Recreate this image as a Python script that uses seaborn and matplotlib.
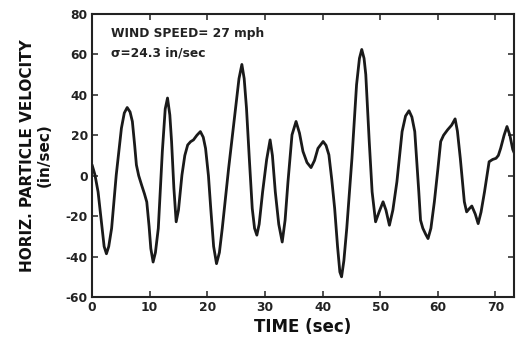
import matplotlib
matplotlib.use("Agg")
import matplotlib.pyplot as plt
import seaborn as sns
import pandas as pd

time_sec = [0.0, 0.5, 1.05, 1.74, 2.1, 2.5, 2.9, 3.4, 4.2, 5.1, 5.6, 6.1, 6.6, 7.0, 7.4,
            7.7, 8.1, 8.6, 9.1, 9.5, 9.9, 10.2, 10.6, 11.0, 11.5, 12.2, 12.7, 13.1, 13.5,
            13.8, 14.2, 14.6, 15.0, 15.6, 16.1, 16.6, 17.1, 17.6, 18.2, 18.8, 19.3, 19.7,
            20.2, 20.6, 21.1, 21.6, 22.1, 22.6, 23.7, 24.9, 25.5, 26.0, 26.4, 26.8, 27.3,
            27.8, 28.2, 28.6, 29.0, 29.6, 30.3, 30.9, 31.3, 31.8, 32.4, 33.0, 33.5, 34.0,
            34.7, 35.4, 36.0, 36.6, 37.3, 38.0, 38.6, 39.2, 40.1, 40.6, 41.1, 41.6, 42.1,
            42.6, 43.0, 43.3, 43.7, 44.2, 45.1, 45.9, 46.4, 46.8, 47.2, 47.5, 48.1, 48.6,
            49.2, 49.8, 50.5, 51.0, 51.6, 52.2, 52.9, 53.8, 54.4, 55.0, 55.5, 56.0, 56.7,
            57.0, 57.4, 57.9, 58.3, 58.8, 59.4, 60.0, 60.5, 61.0, 61.7, 62.4, 63.0, 63.4,
            63.9, 64.3, 64.6, 65.0, 65.4, 65.9, 66.5, 67.0, 67.5, 68.1, 68.9, 69.5, 70.1,
            70.5, 70.9, 71.5, 72.0, 72.5, 73.0, 73.4]
velocity = [5.4, 0.5, -8.0, -26.0, -35.0, -38.6, -35.0, -26.0, 0.3, 23.5, 31.0, 33.7, 31.5,
            26.8, 15.0, 5.3, 0.0, -4.6, -9.0, -13.0, -25.0, -36.0, -42.7, -38.0, -26.0, 12.0,
            33.0, 38.4, 30.0, 17.0, -6.0, -22.8, -17.0, 0.3, 10.0, 15.2, 16.8, 17.7, 20.0,
            21.8, 19.0, 13.5, 0.0, -16.2, -35.0, -43.5, -38.0, -26.0, 3.6, 33.4, 48.0, 55.0,
            48.0, 33.4, 8.0, -16.2, -26.0, -29.4, -24.0, -8.0, 8.0, 17.7, 10.0, -8.0, -24.0,
            -32.8, -22.0, -3.0, 20.2, 26.8, 21.0, 12.0, 6.5, 4.0, 7.5, 13.5, 16.9, 15.0, 10.3,
            -2.0, -16.2, -35.0, -47.6, -50.0, -42.0, -26.0, 8.6, 45.0, 58.0, 62.4, 58.0, 50.0,
            16.9, -8.0, -22.8, -18.0, -12.9, -17.0, -24.5, -17.0, -3.0, 21.8, 29.5, 32.1, 29.0,
            21.8, -8.0, -22.0, -26.0, -29.0, -31.1, -26.0, -12.9, 3.0, 16.9, 20.0, 22.7, 25.0,
            28.1, 22.0, 8.6, -4.0, -12.9, -17.9, -16.5, -15.0, -19.0, -23.7, -18.0, -8.0, 6.9,
            8.0, 8.6, 10.0, 13.5, 20.0, 24.3, 20.0, 13.0, 10.3]

x_ticks = [0, 10, 20, 30, 40, 50, 60, 70]
y_ticks = [-60, -40, -20, 0, 20, 40, 60, 80]

df = pd.DataFrame({"t": time_sec, "v": velocity})

sns.set_theme(style="white")
plt.rcParams["font.family"] = ["DejaVu Sans"]
plt.rcParams["font.weight"] = "bold"

fig = plt.figure(figsize=(5.17, 3.47), dpi=100)
ax = fig.add_axes([0.178, 0.144, 0.816, 0.816])

line_kw = dict(solid_joinstyle="round", solid_capstyle="round")
sns.lineplot(data=df, x="t", y="v", ax=ax, color="#1a1a1a", linewidth=2.0, sort=False, **line_kw)

ax.set_xlim(0, 73.2)
ax.set_ylim(-60, 80)
ax.set_xticks(x_ticks)
ax.set_yticks(y_ticks)
ax.set_xticklabels([str(v) for v in x_ticks], fontsize=8.8, fontweight="bold", color="#222222")
ax.set_yticklabels([str(v) for v in y_ticks], fontsize=8.8, fontweight="bold", color="#222222")
ax.tick_params(direction="in", length=4, width=1.2, color="#333333",
               top=True, right=True, bottom=True, left=True, pad=3)
for s in ax.spines.values():
    s.set_linewidth(1.5)
    s.set_color("#222222")
    s.set_visible(True)

ax.set_xlabel("TIME (sec)", fontsize=12, fontweight="bold", color="#111111", labelpad=3)
ax.set_ylabel("HORIZ. PARTICLE VELOCITY\n(in/sec)", fontsize=11, fontweight="bold",
              color="#111111", labelpad=10, linespacing=1.15)

ax.text(0.045, 0.955, "WIND SPEED= 27 mph", transform=ax.transAxes, fontsize=8.8,
        fontweight="bold", color="#222222", va="top", ha="left")
ax.text(0.045, 0.885, "σ=24.3 in/sec", transform=ax.transAxes, fontsize=8.8,
        fontweight="bold", color="#222222", va="top", ha="left")

fig.savefig("out.png", dpi=100)
